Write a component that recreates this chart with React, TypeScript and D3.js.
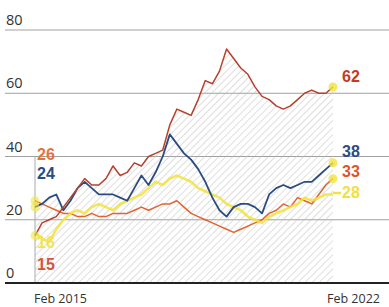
import React from "react";
import * as d3 from "d3";

const W = 389;
const H = 307;

const yTicks = [0, 20, 40, 60, 80];
const dateLabels = ["Feb 2015", "Feb 2022"];

// values every two months, Feb 2015 – Feb 2022
const redSeries = [15, 19, 20, 21, 24, 27, 30, 33, 31, 31, 33, 37, 34, 35, 38, 37, 40, 41, 42, 50, 55, 54, 53, 58, 64, 63, 67, 74, 71, 68, 66, 62, 59, 58, 56, 55, 56, 58, 60, 61, 60, 60, 62];
const blueSeries = [24, 25, 27, 28, 23, 26, 30, 32, 30, 28, 28, 28, 27, 26, 30, 34, 31, 35, 40, 47, 44, 41, 39, 36, 32, 27, 23, 21, 24, 25, 25, 24, 22, 28, 30, 31, 30, 31, 32, 32, 34, 36, 38];
const orangeSeries = [26, 25, 24, 23, 22, 22, 21, 21, 22, 21, 21, 22, 22, 22, 23, 24, 23, 24, 25, 25, 26, 24, 22, 21, 20, 19, 18, 17, 16, 17, 18, 19, 20, 22, 23, 25, 24, 27, 26, 25, 28, 31, 33];
const yellowSeries = [16, 14, 13, 17, 20, 22, 23, 22, 24, 25, 24, 23, 25, 26, 27, 28, 30, 32, 31, 33, 34, 33, 32, 30, 29, 28, 27, 25, 24, 23, 21, 20, 19, 21, 22, 23, 24, 25, 27, 26, 27, 28, 28];

const seriesList = [
  { key: "orange", values: orangeSeries, color: "#e0642f", width: 1.5, opacity: 1 },
  { key: "yellow", values: yellowSeries, color: "#f3e23c", width: 2.6, opacity: 0.85 },
  { key: "blue", values: blueSeries, color: "#2b4c80", width: 1.8, opacity: 1 },
  { key: "red", values: redSeries, color: "#b5412c", width: 1.5, opacity: 1 },
];

const startLabels = [
  { text: "26", color: "#e0743f", y: 160 },
  { text: "24", color: "#2b4c80", y: 179 },
  { text: "16", color: "#f0e25a", y: 248 },
  { text: "15", color: "#d4553a", y: 270 },
];

const endLabels = [
  { text: "62", color: "#c53a26", y: 82 },
  { text: "38", color: "#2b4c80", y: 157 },
  { text: "33", color: "#e0542a", y: 177 },
  { text: "28", color: "#f0e040", y: 198 },
];

export default function App() {
  const n = redSeries.length;
  const x = d3.scaleLinear().domain([0, n - 1]).range([35, 333]);
  const y = d3.scaleLinear().domain([0, 80]).range([283, 30]);

  const maxVals = d3.range(n).map((i) =>
    Math.max(redSeries[i], blueSeries[i], orangeSeries[i], yellowSeries[i])
  );
  const area = d3
    .area<number>()
    .x((_, i) => x(i))
    .y0(y(0))
    .y1((d) => y(d));
  const line = d3
    .line<number>()
    .x((_, i) => x(i))
    .y((d) => y(d));

  const font = "'Open Sans', 'Liberation Sans', sans-serif";
  const numFont = "'Liberation Sans', Arial, sans-serif";

  return (
    <svg
      width={W}
      height={H}
      style={{ position: "absolute", left: 0, top: 0, background: "#fff" }}
    >
      <defs>
        <pattern id="hatch" width="5" height="5" patternUnits="userSpaceOnUse" patternTransform="rotate(45)">
          <line x1="0" y1="0" x2="0" y2="5" stroke="#bdbdbd" strokeWidth="1" />
        </pattern>
      </defs>
      <rect width={W} height={H} fill="#fff" />
      {/* gridlines */}
      {yTicks.filter((t) => t > 0).map((t) => (
        <line key={t} x1={5} x2={W} y1={y(t)} y2={y(t)} stroke="#a0a0a0" strokeWidth={1} />
      ))}
      {/* hatched area */}
      <path d={area(maxVals) || ""} fill="url(#hatch)" />
      <line x1={x(0)} x2={x(0)} y1={y(40)} y2={y(0)} stroke="#aaa" strokeWidth={1} />
      {/* axis */}
      <line x1={5} x2={W} y1={y(0)} y2={y(0)} stroke="#222" strokeWidth={2} />
      {yTicks.map((t) => (
        <text key={t} x={6} y={y(t) - 5} fontSize={14.5} fill="#333" fontFamily={font}>
          {t}
        </text>
      ))}
      {/* lines */}
      {seriesList.map((s) => (
        <path
          key={s.key}
          d={line(s.values) || ""}
          fill="none"
          stroke={s.color}
          strokeWidth={s.width}
          strokeOpacity={s.opacity}
          strokeLinejoin="round"
        />
      ))}
      {/* markers */}
      {seriesList.filter((s) => s.key !== "yellow").map((s) => (
        <g key={s.key}>
          <circle cx={x(0)} cy={y(s.values[0])} r={4.5} fill="#f2e43a" opacity={0.6} />
          <circle cx={x(n - 1)} cy={y(s.values[n - 1])} r={4.5} fill="#f2e43a" opacity={0.8} />
        </g>
      ))}
      {/* start labels */}
      {startLabels.map((l) => (
        <text key={l.text} x={37} y={l.y} fontSize={16} fontWeight={700} fill={l.color} fontFamily={numFont}>
          {l.text}
        </text>
      ))}
      {/* end labels */}
      {endLabels.map((l) => (
        <text key={l.text} x={342} y={l.y} fontSize={16} fontWeight={700} fill={l.color} fontFamily={numFont}>
          {l.text}
        </text>
      ))}
      <line x1={333} x2={341} y1={193} y2={193} stroke="#f0e040" strokeWidth={2.5} />
      {/* dates */}
      <text x={34} y={303} fontSize={12.5} fill="#333" fontFamily={font}>
        {dateLabels[0]}
      </text>
      <text x={327} y={303} fontSize={12.5} fill="#333" fontFamily={font}>
        {dateLabels[1]}
      </text>
    </svg>
  );
}
